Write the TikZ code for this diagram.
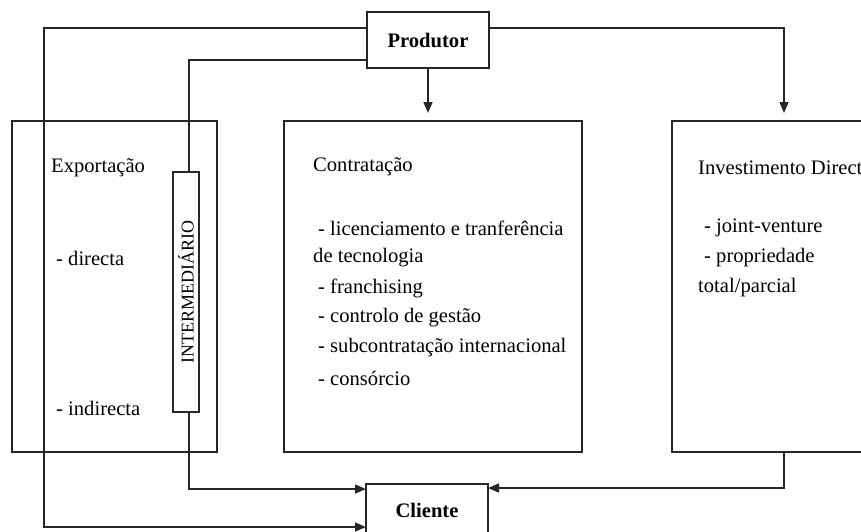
\documentclass[tikz,border=0pt]{standalone}
\usepackage{fontspec}
\setmainfont{Liberation Serif}
\usetikzlibrary{arrows.meta,calc}
\begin{document}
\begin{tikzpicture}[x=1pt,y=-1pt,
  box/.style={draw=black!85, line width=1.5pt, inner sep=0pt, outer sep=0pt},
  link/.style={line width=1.5pt, draw=black!85},
  arr/.style={link, -{Triangle[length=11pt,width=9pt]}},
  txt/.style={inner sep=0pt, anchor=west, font=\fontsize{20.6}{24}\selectfont},
  heavy/.style={inner sep=0pt, font=\fontsize{20.6}{24}\selectfont\bfseries}]
\clip (0,0) rectangle (861,531);
\fill[white] (0,0) rectangle (861,531);

% main boxes
\node[box, heavy, minimum width=122, minimum height=56] (prod) at (428,40) {Produtor};
\node[box, minimum width=122, minimum height=62, anchor=north] (cli) at (427,484) {};
\node[heavy] (clilbl) at (427,510) {Cliente};
\node[box, minimum width=205, minimum height=331] (exp) at (114.5,286.5) {};
\node[box, minimum width=298, minimum height=331] (contr) at (433,286.5) {};
\node[box, minimum width=224, minimum height=331] (inv) at (784,286.5) {};
\node[box, minimum width=26, minimum height=240] (inter) at (186,292) {};
\node[rotate=90, inner sep=0pt, font=\fontsize{18}{18}\selectfont] (interlbl) at (inter.center) {INTERMEDIÁRIO};

% helper rows and turning points
\coordinate (tipA) at (0,113);
\coordinate (rowL) at (0,489);
\coordinate (rowR) at (0,488);
\coordinate (rowB) at (0,527);
\coordinate (farL) at (44,0);
\coordinate (farR) at (784,0);
\coordinate (interTop) at ($(inter.north)+(3,0)$);
\coordinate (interBot) at ($(inter.south)+(3,0)$);

% connectors
\draw[arr] ($(prod.north west)+(0,16)$) -| (farL |- rowB) -- (cli.west |- rowB);
\draw[link] ($(prod.north west)+(0,48)$) -| (interTop);
\draw[arr] (interBot) |- (cli.west |- rowL);
\draw[arr] (prod.south) -- (prod.south |- tipA);
\draw[arr] ($(prod.north east)+(0,16)$) -| (farR |- tipA);
\draw[arr] (inv.south) |- (cli.east |- rowR);

% Exportação
\node[txt] (expt) at (51,168) {Exportação};
\node[txt] (expd) at (56,258) {- directa};
\node[txt] (expi) at (56,408) {- indirecta};

% Contratação
\node[txt] (c0) at (313,167) {Contratação};
\node[txt] (c1) at (318,228) {- licenciamento e tranferência};
\node[txt] (c2) at (313,258) {de tecnologia};
\node[txt] (c3) at (318,288) {- franchising};
\node[txt] (c4) at (318,318) {- controlo de gestão};
\node[txt] (c5) at (318,348) {- subcontratação internacional};
\node[txt] (c6) at (318,378) {- consórcio};

% Investimento
\node[txt] (i0) at (698,168) {Investimento Direct};
\node[txt] (i1) at (704,228) {- joint-venture};
\node[txt] (i2) at (704,258) {- propriedade};
\node[txt] (i3) at (698,288) {total/parcial};
\end{tikzpicture}
\end{document}
